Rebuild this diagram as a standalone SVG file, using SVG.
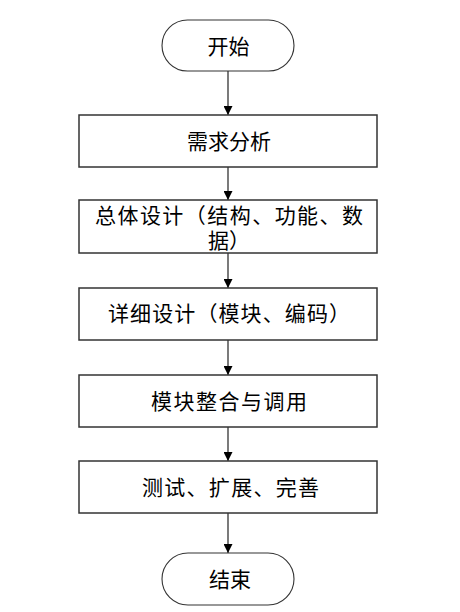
<svg xmlns="http://www.w3.org/2000/svg" width="460" height="612" viewBox="0 0 460 612">
<style>
  .box { fill: #ffffff; stroke: #333333; stroke-width: 1.5; }
  .term { fill: #ffffff; stroke: #333333; stroke-width: 1.1; }
  .lbl { font-family: "Noto Sans CJK SC", "Liberation Sans", sans-serif; font-size: 21px; fill: #000000; text-anchor: middle; }
  .conn { stroke: #333333; stroke-width: 1.3; fill: none; marker-end: url(#arr); }
</style>
<defs>
  <marker id="arr" viewBox="0 0 10 10" refX="10" refY="5" markerWidth="10" markerHeight="9" markerUnits="userSpaceOnUse" orient="auto">
    <path d="M0,0 L10,5 L0,10 Z" fill="#000000"/>
  </marker>
</defs>
<rect width="460" height="612" fill="#ffffff"/>
<g id="connectors">
  <line class="conn" x1="228" y1="71" x2="228" y2="115"/>
  <line class="conn" x1="228" y1="167" x2="228" y2="200"/>
  <line class="conn" x1="228" y1="253" x2="228" y2="288"/>
  <line class="conn" x1="228" y1="340" x2="228" y2="375"/>
  <line class="conn" x1="228" y1="427" x2="228" y2="461"/>
  <line class="conn" x1="228" y1="513" x2="228" y2="553"/>
</g>
<g id="start">
  <rect class="term" x="162" y="20" width="132" height="51" rx="25.5" ry="25.5"/>
  <text class="lbl" x="228.5" y="53.5">开始</text>
</g>
<g id="req">
  <rect class="box" x="79" y="115" width="298" height="52"/>
  <text class="lbl" x="229" y="148.5">需求分析</text>
</g>
<g id="overall">
  <rect class="box" x="79" y="200" width="298" height="53"/>
  <text class="lbl" x="95" y="222.5" style="text-anchor:start" textLength="268" lengthAdjust="spacing">总体设计（结构、功能、数</text>
  <text class="lbl" x="229" y="248">据）</text>
</g>
<g id="detail">
  <rect class="box" x="79" y="288" width="298" height="52"/>
  <text class="lbl" x="108" y="320.5" style="text-anchor:start" textLength="242" lengthAdjust="spacing">详细设计（模块、编码）</text>
</g>
<g id="integrate">
  <rect class="box" x="79" y="375" width="298" height="52"/>
  <text class="lbl" x="151" y="409" style="text-anchor:start" textLength="156" lengthAdjust="spacing">模块整合与调用</text>
</g>
<g id="test">
  <rect class="box" x="79" y="461" width="298" height="52"/>
  <text class="lbl" x="142" y="495" style="text-anchor:start" textLength="177" lengthAdjust="spacing">测试、扩展、完善</text>
</g>
<g id="end">
  <rect class="term" x="162" y="553" width="132" height="52" rx="26" ry="26"/>
  <text class="lbl" x="230" y="587">结束</text>
</g>
</svg>
